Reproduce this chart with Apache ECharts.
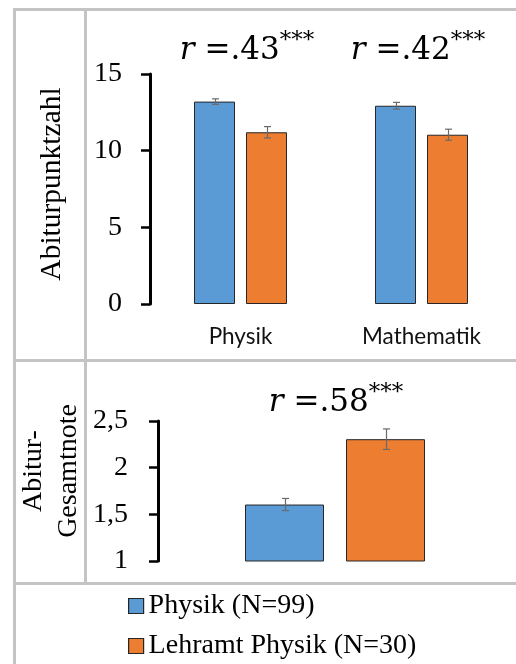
<!DOCTYPE html>
<html>
<head>
<meta charset="utf-8">
<script src="https://cdn.jsdelivr.net/npm/echarts@6/dist/echarts.min.js"></script>
<style>html,body{margin:0;padding:0;background:#fff;}#c{width:516px;height:664px;}</style>
</head>
<body>
<div id="c"></div>
<script>
// ---- data ----
var subjects = ['Physik', 'Mathematik'];
var seriesNames = ['Physik (N=99)', 'Lehramt Physik (N=30)'];
var physikPunkte = [13.2, 12.93];
var physikPunkteErr = [0.18, 0.22];
var lehramtPunkte = [11.2, 11.04];
var lehramtPunkteErr = [0.37, 0.36];
var gesamtCategory = ['Abitur-Gesamtnote'];
var physikNote = [1.605];
var physikNoteErr = [0.065];
var lehramtNote = [2.305];
var lehramtNoteErr = [0.11];
var topTicks = { min: 0, max: 15, interval: 5 };
var bottomTicks = { min: 1, max: 2.5, interval: 0.5 };
var correlations = ['.43', '.42', '.58'];

// ---- styles ----
var BLUE = '#5B9BD5', ORANGE = '#ED7D31', FRAME = '#c4c4c4';
var SERIF = 'Liberation Serif';
var topBarW = 41, topGap = 11, botBarW = 79, botGap = 22;

function errData(means, errs) {
  return means.map(function (m, i) { return [i, m - errs[i], m + errs[i]]; });
}
function errRender(offset) {
  return function (params, api) {
    var c = api.value(0);
    var p1 = api.coord([c, api.value(1)]);
    var p2 = api.coord([c, api.value(2)]);
    var x = Math.round(p1[0] + offset) + 0.5;
    var st = { stroke: '#6a6a6a', lineWidth: 1.2 };
    var cap = 3.5;
    return { type: 'group', children: [
      { type: 'line', shape: { x1: x, y1: p1[1], x2: x, y2: p2[1] }, style: st },
      { type: 'line', shape: { x1: x - cap, y1: p1[1], x2: x + cap, y2: p1[1] }, style: st },
      { type: 'line', shape: { x1: x - cap, y1: p2[1], x2: x + cap, y2: p2[1] }, style: st }
    ]};
  };
}
function yAxisCfg(gi, ticks, margin) {
  return {
    type: 'value', gridIndex: gi, min: ticks.min, max: ticks.max, interval: ticks.interval,
    splitLine: { show: false },
    axisLine: { show: true, lineStyle: { color: '#000', width: 3 } },
    axisTick: { show: true, length: 9, lineStyle: { color: '#000', width: 2.5 } },
    axisLabel: { margin: margin, color: '#000', fontFamily: SERIF, fontSize: 28,
      formatter: function (v) { return String(v).replace('.', ','); } }
  };
}
function rText(val, cx, cy) {
  return {
    type: 'text', x: cx, y: cy, z: 10,
    style: {
      text: '{r|r }{m|=' + val + '}{s|***}',
      align: 'center', verticalAlign: 'middle', fill: '#000',
      rich: {
        r: { font: 'italic 31px DejaVu Serif', lineHeight: 42 },
        m: { font: '31px DejaVu Serif', lineHeight: 42 },
        s: { font: '23px DejaVu Serif', lineHeight: 34, verticalAlign: 'top' }
      }
    }
  };
}
function frameLine(x1, y1, x2, y2) {
  return { type: 'line', z: 0, shape: { x1: x1, y1: y1, x2: x2, y2: y2 }, style: { stroke: FRAME, lineWidth: 3 } };
}
function legendCfg(name, top) {
  return {
    orient: 'vertical', left: 128, top: top, itemWidth: 15, itemHeight: 15, padding: 0,
    data: [name], selectedMode: false, icon: 'rect',
    itemStyle: { borderColor: '#262626', borderWidth: 1.2 },
    textStyle: { fontFamily: SERIF, fontSize: 28, color: '#000', lineHeight: 30 }
  };
}
var barItem = function (color) { return { color: color, borderColor: '#262626', borderWidth: 1 }; };

var chart = echarts.init(document.getElementById('c'), null, { renderer: 'canvas' });
chart.setOption({
  animation: false,
  backgroundColor: '#fff',
  textStyle: { fontFamily: SERIF },
  grid: [
    { left: 150, right: 4, top: 74, height: 230 },
    { left: 158, right: 4, top: 421, height: 140 }
  ],
  xAxis: [
    { type: 'category', gridIndex: 0, data: subjects,
      axisLine: { show: false }, axisTick: { show: false },
      axisLabel: { margin: 21, color: '#111', fontFamily: 'Lato', fontSize: 22.5 } },
    { type: 'category', gridIndex: 1, data: gesamtCategory,
      axisLine: { show: false }, axisTick: { show: false }, axisLabel: { show: false } }
  ],
  yAxis: [ yAxisCfg(0, topTicks, 28), yAxisCfg(1, bottomTicks, 30) ],
  legend: [ legendCfg(seriesNames[0], 591), legendCfg(seriesNames[1], 631) ],
  series: [
    { name: seriesNames[0], type: 'bar', xAxisIndex: 0, yAxisIndex: 0, data: physikPunkte,
      barWidth: topBarW, barGap: (topGap / topBarW * 100) + '%', itemStyle: barItem(BLUE) },
    { name: seriesNames[1], type: 'bar', xAxisIndex: 0, yAxisIndex: 0, data: lehramtPunkte,
      barWidth: topBarW, barGap: (topGap / topBarW * 100) + '%', itemStyle: barItem(ORANGE) },
    { name: seriesNames[0], type: 'bar', xAxisIndex: 1, yAxisIndex: 1, data: physikNote,
      barWidth: botBarW, barGap: (botGap / botBarW * 100) + '%', itemStyle: barItem(BLUE) },
    { name: seriesNames[1], type: 'bar', xAxisIndex: 1, yAxisIndex: 1, data: lehramtNote,
      barWidth: botBarW, barGap: (botGap / botBarW * 100) + '%', itemStyle: barItem(ORANGE) },
    { name: 'errA', type: 'custom', xAxisIndex: 0, yAxisIndex: 0, z: 5,
      renderItem: errRender(-(topBarW + topGap) / 2), encode: { x: 0, y: [1, 2] },
      data: errData(physikPunkte, physikPunkteErr) },
    { name: 'errB', type: 'custom', xAxisIndex: 0, yAxisIndex: 0, z: 5,
      renderItem: errRender((topBarW + topGap) / 2), encode: { x: 0, y: [1, 2] },
      data: errData(lehramtPunkte, lehramtPunkteErr) },
    { name: 'errC', type: 'custom', xAxisIndex: 1, yAxisIndex: 1, z: 5,
      renderItem: errRender(-(botBarW + botGap) / 2), encode: { x: 0, y: [1, 2] },
      data: errData(physikNote, physikNoteErr) },
    { name: 'errD', type: 'custom', xAxisIndex: 1, yAxisIndex: 1, z: 5,
      renderItem: errRender((botBarW + botGap) / 2), encode: { x: 0, y: [1, 2] },
      data: errData(lehramtNote, lehramtNoteErr) }
  ],
  graphic: [
    frameLine(14.5, 8, 14.5, 664),
    frameLine(13, 9.5, 516, 9.5),
    frameLine(85.5, 8, 85.5, 584),
    frameLine(13, 360.5, 516, 360.5),
    frameLine(13, 583.5, 516, 583.5),
    rText(correlations[0], 247, 51),
    rText(correlations[1], 418, 51),
    rText(correlations[2], 336, 403),
    { type: 'text', x: 52, y: 184, rotation: Math.PI / 2, z: 10,
      style: { text: 'Abiturpunktzahl', align: 'center', verticalAlign: 'middle',
        fontFamily: SERIF, fontSize: 29.5, fill: '#000' } },
    { type: 'text', x: 51, y: 471, rotation: Math.PI / 2, z: 10,
      style: { text: 'Abitur-\nGesamtnote', align: 'center', verticalAlign: 'middle',
        fontFamily: SERIF, fontSize: 28, lineHeight: 35, fill: '#000' } }
  ]
});
</script>
</body>
</html>
